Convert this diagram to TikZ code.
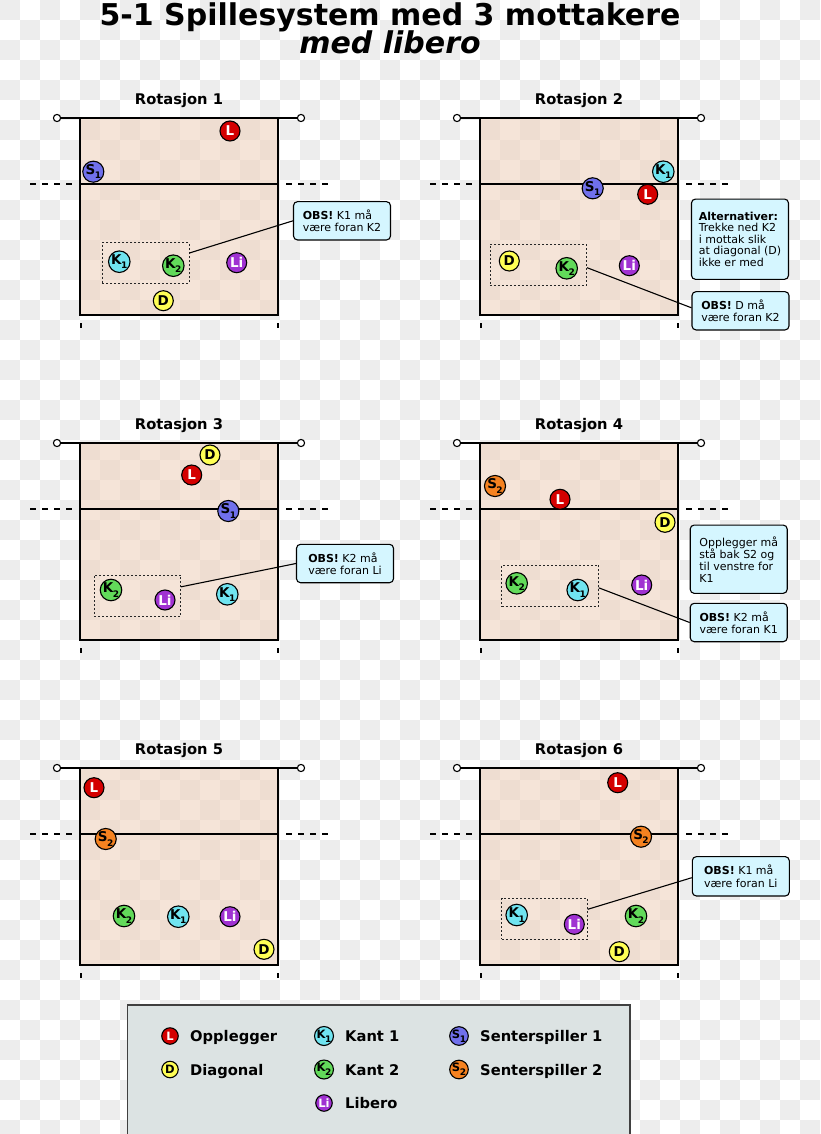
\documentclass[tikz,border=0pt]{standalone}
\usepackage{fontspec}
\setmainfont{DejaVu Sans}
\usetikzlibrary{calc}
\definecolor{chk}{HTML}{EDEDED}
\definecolor{courtc}{RGB}{239,211,191}
\definecolor{cL}{HTML}{D40000}
\definecolor{cD}{HTML}{FFFF55}
\definecolor{cKa}{HTML}{70E4F0}
\definecolor{cKb}{HTML}{62DA5A}
\definecolor{cLi}{HTML}{A032D2}
\definecolor{cSa}{HTML}{7070EC}
\definecolor{cSb}{HTML}{F58220}
\definecolor{callc}{HTML}{D5F6FF}
\definecolor{legc}{HTML}{DCE3E3}
\newcommand\psub[2]{#1\kern-0.5pt\raisebox{-0.32em}{\fontsize{9}{9}\selectfont #2}}
\newcommand\drawcourt[3]{%
\begin{scope}[shift={(#1,#2)}]
 \fill[courtc, fill opacity=0.6] (0,0) rectangle (198,197);
 \draw[line width=1.1pt] (-23,0) -- (221,0);
 \draw[line width=2pt] (0,66) -- (198,66);
 \draw[line width=2pt, dash pattern=on 6pt off 6pt] (-50,66) -- (-7,66);
 \draw[line width=2pt, dash pattern=on 6pt off 6pt] (206,66) -- (249,66);
 \draw[line width=2.6pt] (0,0) rectangle (198,197);
 \draw[fill=white, line width=1.1pt] (-23,0) circle[radius=3.6];
 \draw[fill=white, line width=1.1pt] (221,0) circle[radius=3.6];
 \draw[line width=2pt] (1,205) -- (1,209.5) (198,205) -- (198,209.5);
 \node[rtitle] (title#3) at (99,-13.7) {Rotasjon #3};
\end{scope}}
\tikzset{
 rtitle/.style={anchor=base, inner sep=0pt, font=\fontsize{14.7}{14.7}\selectfont\bfseries},
 player/.style={circle, draw=black, line width=1.1pt, minimum size=20pt, inner sep=0pt, font=\fontsize{13.5}{13.5}\selectfont\bfseries},
 pL/.style={player, fill=cL, text=white},
 pD/.style={player, fill=cD},
 pKa/.style={player, fill=cKa},
 pKb/.style={player, fill=cKb},
 pLi/.style={player, fill=cLi, text=white},
 pSa/.style={player, fill=cSa},
 pSb/.style={player, fill=cSb},
 leg/.style={minimum size=16.5pt, font=\fontsize{11.5}{11.5}\selectfont\bfseries},
 legtext/.style={anchor=base west, inner sep=0pt, font=\fontsize{14.7}{14.7}\selectfont\bfseries},
 dbox/.style={draw=black!85, line width=0.8pt, dash pattern=on 2pt off 2pt, inner sep=0pt},
 callout/.style={draw=black, line width=1.1pt, fill=callc, rounded corners=4pt, align=left,
   inner xsep=0pt, inner ysep=0pt, minimum width=97pt, font=\fontsize{11}{12.3}\selectfont},
 conn/.style={line width=1.1pt},
}
\begin{document}
\begin{tikzpicture}[x=1pt, y=-1pt]
\clip (0,0) rectangle (820,1134);
\useasboundingbox (0,0) rectangle (820,1134);
\fill[white] (0,0) rectangle (820,1134);
% checkerboard background
\foreach \j in {0,...,56}{
  \pgfmathtruncatemacro\off{mod(\j,2)*20}
  \foreach \i in {0,...,20}{
    \fill[chk] (\off+\i*40,\j*20) rectangle ++(20,20);
  }
}
% main title
\node[anchor=base, inner sep=0pt, font=\fontsize{30}{30}\selectfont\bfseries] (maintitle) at (390,25.5) {5-1 Spillesystem med 3 mottakere};
\node[anchor=base, inner sep=0pt, font=\fontsize{30}{30}\selectfont\bfseries\itshape] (subtitle) at (390,54) {med libero};
% courts
\drawcourt{80}{118}{1}
\drawcourt{480}{118}{2}
\drawcourt{80}{443}{3}
\drawcourt{480}{443}{4}
\drawcourt{80}{768}{5}
\drawcourt{480}{768}{6}
% dashed groups
\node[dbox, minimum width=86.7pt, minimum height=40.6pt] (g1) at (145.7,263) {};
\node[dbox, minimum width=96.7pt, minimum height=40.7pt] (g2) at (538.3,264.7) {};
\node[dbox, minimum width=86.4pt, minimum height=41.7pt] (g3) at (137.5,595.8) {};
\node[dbox, minimum width=96.6pt, minimum height=41.7pt] (g4) at (550,585.8) {};
\node[dbox, minimum width=85.6pt, minimum height=41pt] (g6) at (544.5,918.8) {};
% callouts
\node[callout, minimum height=38.3pt] (c1) at (342,220.8) {\textbf{OBS!} K1 må\\være foran K2};
\node[callout, minimum height=80.3pt, font=\fontsize{11}{11.6}\selectfont] (a2) at (740,239.2) {\textbf{Alternativer:}\\Trekke ned K2\\i mottak slik\\at diagonal (D)\\ikke er med};
\node[callout, minimum height=38.3pt] (c2) at (740.5,310.8) {\textbf{OBS!} D må\\være foran K2};
\node[callout, minimum height=38.4pt] (c3) at (345,563.5) {\textbf{OBS!} K2 må\\være foran Li};
\node[callout, minimum height=68.3pt, font=\fontsize{11}{12}\selectfont] (a4) at (738.7,559.2) {Opplegger må\\stå bak S2 og\\til venstre for\\K1};
\node[callout, minimum height=38.4pt] (c4) at (738.7,622.5) {\textbf{OBS!} K2 må\\være foran K1};
\node[callout, minimum height=39.3pt] (c6) at (740.8,876.3) {\textbf{OBS!} K1 må\\være foran Li};
% connectors
\draw[conn] ([yshift=10pt]g1.east) -- (c1.west);
\draw[conn] ([yshift=-3pt]g2.east) -- ([yshift=3pt]c2.west);
\draw[conn] ([yshift=9pt]g3.east) -- (c3.west);
\draw[conn] ([yshift=-2pt]g4.east) -- (c4.west);
\draw[conn] ([yshift=9.5pt]g6.east) -- ([yshift=-1.4pt]c6.west);
% Rotasjon 1
\node[pL] (r1L) at (230,131) {L};
\node[pSa] (r1S) at (93.3,171.7) {\psub{S}{1}};
\node[pKa] (r1Ka) at (119.3,261.7) {\psub{K}{1}};
\node[pKb] (r1Kb) at (173.3,265.7) {\psub{K}{2}};
\node[pLi] (r1Li) at (236.7,262.7) {Li};
\node[pD] (r1D) at (163.3,300.7) {D};
% Rotasjon 2
\node[pKa] (r2Ka) at (663.3,171.7) {\psub{K}{1}};
\node[pSa] (r2S) at (592.7,188.3) {\psub{S}{1}};
\node[pL] (r2L) at (647.7,194.3) {L};
\node[pD] (r2D) at (509.3,261) {D};
\node[pKb] (r2Kb) at (566.7,268.3) {\psub{K}{2}};
\node[pLi] (r2Li) at (629.3,265.7) {Li};
% Rotasjon 3
\node[pD] (r3D) at (210,455) {D};
\node[pL] (r3L) at (191.7,475) {L};
\node[pSa] (r3S) at (228.3,511) {\psub{S}{1}};
\node[pKb] (r3Kb) at (111,590) {\psub{K}{2}};
\node[pLi] (r3Li) at (165,600) {Li};
\node[pKa] (r3Ka) at (227.3,594.3) {\psub{K}{1}};
% Rotasjon 4
\node[pSb] (r4S) at (495,486) {\psub{S}{2}};
\node[pL] (r4L) at (560,499.3) {L};
\node[pD] (r4D) at (665,522.3) {D};
\node[pKb] (r4Kb) at (516.7,583.3) {\psub{K}{2}};
\node[pKa] (r4Ka) at (577.7,590) {\psub{K}{1}};
\node[pLi] (r4Li) at (641.7,585) {Li};
% Rotasjon 5
\node[pL] (r5L) at (94,787.7) {L};
\node[pSb] (r5S) at (105.7,839) {\psub{S}{2}};
\node[pKb] (r5Kb) at (124,916) {\psub{K}{2}};
\node[pKa] (r5Ka) at (178.3,916.7) {\psub{K}{1}};
\node[pLi] (r5Li) at (230,916.7) {Li};
\node[pD] (r5D) at (264,949.3) {D};
% Rotasjon 6
\node[pL] (r6L) at (617.7,782.7) {L};
\node[pSb] (r6S) at (641,836.7) {\psub{S}{2}};
\node[pKa] (r6Ka) at (516.7,915) {\psub{K}{1}};
\node[pLi] (r6Li) at (574.3,924.3) {Li};
\node[pKb] (r6Kb) at (636,916) {\psub{K}{2}};
\node[pD] (r6D) at (619.3,951.7) {D};
% legend
\draw[fill=legc, draw=black!75, line width=1.3pt] (127.3,1005) rectangle (630,1140);
\node[pL, leg] (lgL) at (170,1036) {L};
\node[pD, leg] (lgD) at (170,1069.5) {D};
\node[pKa, leg] (lgKa) at (324,1036) {\psub{K}{1}};
\node[pKb, leg] (lgKb) at (324,1069.5) {\psub{K}{2}};
\node[pLi, leg] (lgLi) at (324,1103) {Li};
\node[pSa, leg] (lgSa) at (459,1036) {\psub{S}{1}};
\node[pSb, leg] (lgSb) at (459,1069.5) {\psub{S}{2}};
\node[legtext] (ltL) at (190,1041.5) {Opplegger};
\node[legtext] (ltD) at (190,1075) {Diagonal};
\node[legtext] (ltKa) at (345,1041.5) {Kant 1};
\node[legtext] (ltKb) at (345,1075) {Kant 2};
\node[legtext] (ltLi) at (345,1108.5) {Libero};
\node[legtext] (ltSa) at (480,1041.5) {Senterspiller 1};
\node[legtext] (ltSb) at (480,1075) {Senterspiller 2};
\end{tikzpicture}
\end{document}
